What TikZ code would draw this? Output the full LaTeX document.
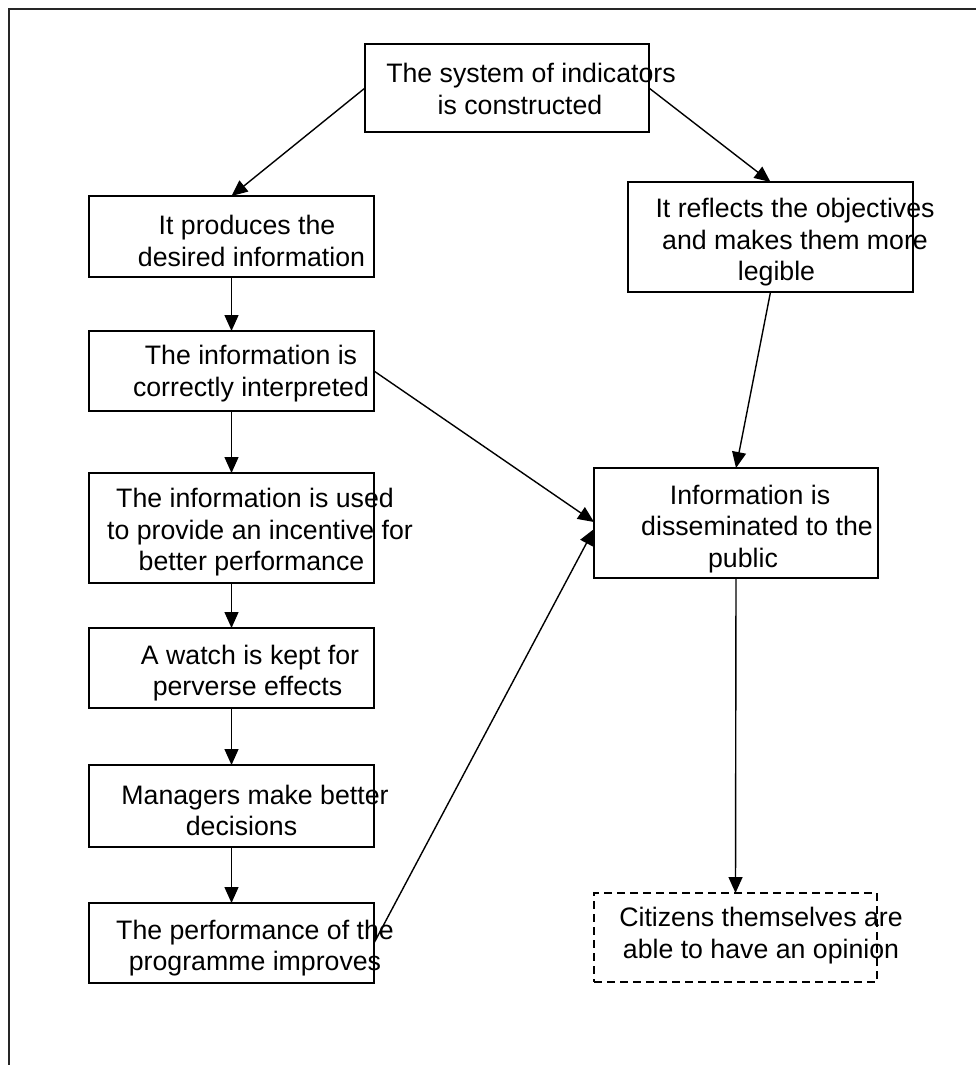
\documentclass[tikz,border=0pt]{standalone}
\usepackage{fontspec}
\setmainfont{Liberation Sans}
\usetikzlibrary{arrows.meta}
\begin{document}
\begin{tikzpicture}[x=1pt,y=-1pt,
  box/.style={draw, line width=2.4pt, inner sep=0pt, outer sep=0pt},
  dbox/.style={box, dash pattern=on 8pt off 5pt, line width=2.8pt},
  txt/.style={align=center, inner sep=0pt, font=\fontsize{26.7}{31.5}\selectfont},
  link/.style={line width=1.4pt, -{Triangle[length=16pt,width=14pt]}},
  frame/.style={line width=1.6pt, draw=black!85}]
\useasboundingbox (0,0) rectangle (976,1065);

% page frame (top and left edges)
\draw[frame] (9,1065) -- (9,9) -- (976,9);

% boxes
\node[box, minimum width=284pt, minimum height=88pt]  (top) at (507,88) {};
\node[box, minimum width=285pt, minimum height=81pt]  (A) at (231.5,236.5) {};
\node[box, minimum width=285pt, minimum height=80pt]  (B) at (231.5,371) {};
\node[box, minimum width=285pt, minimum height=110pt] (C) at (231.5,528) {};
\node[box, minimum width=285pt, minimum height=80pt]  (D) at (231.5,668) {};
\node[box, minimum width=285pt, minimum height=82pt]  (E) at (231.5,806) {};
\node[box, minimum width=285pt, minimum height=80pt]  (F) at (231.5,943) {};
\node[box, minimum width=285pt, minimum height=110pt] (R1) at (770.5,237) {};
\node[box, minimum width=284pt, minimum height=110pt] (R2) at (736,523) {};
\node[dbox, minimum width=283pt, minimum height=89pt] (R3) at (735.5,937.5) {};

% texts
\node[txt] (tTop) at (531,89) {The system of indicators\\is constructed\hspace*{22pt}};
\node[txt] (tA) at (251.5,241) {It produces the\hspace*{9pt}\\desired information};
\node[txt] (tB) at (251,373.5) {The information is\\correctly interpreted};
\node[txt] (tC) at (260,532.5) {The information is used\hspace*{10pt}\\to provide an incentive for\\better performance\hspace*{17pt}};
\node[txt] (tD) at (250,673) {A watch is kept for\\perverse effects\hspace*{5pt}};
\node[txt] (tE) at (255,810.5) {Managers make better\\decisions\hspace*{27pt}};
\node[txt] (tF) at (255,948) {The performance of the\\programme improves};
\node[txt] (tR1) at (795,242.5) {It reflects the objectives\\and makes them more\\legible\hspace*{37pt}};
\node[txt] (tR2) at (757,529) {Information is\hspace*{14pt}\\disseminated to the\\public\hspace*{28pt}};
\node[txt] (tR3) at (761,935.5) {Citizens themselves are\\able to have an opinion};

% connectors
\draw[link] (top.west) -- (A.north);
\draw[link] (top.east) -- (R1.north);
\draw[link] (A.south) -- (B.north);
\draw[link] (B.south) -- (C.north);
\draw[link] (C.south) -- (D.north);
\draw[link] (D.south) -- (E.north);
\draw[link] (E.south) -- (F.north);
\draw[link] (B.east) -- ([yshift=1pt]R2.west);
\draw[link] (F.east) -- ([yshift=-6pt]R2.west);
\draw[link] (R1.south) -- (R2.north);
\draw[link] (R2.south) -- (R3.north);
\end{tikzpicture}
\end{document}
